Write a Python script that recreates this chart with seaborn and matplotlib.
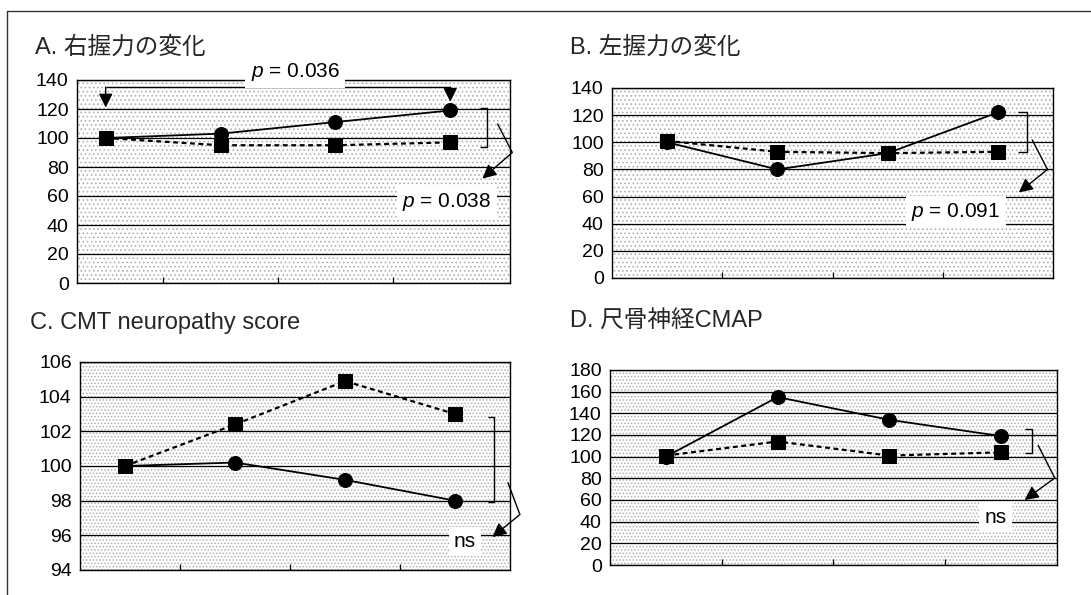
import matplotlib
matplotlib.use('Agg')
import matplotlib.pyplot as plt
import seaborn as sns
import pandas as pd
from matplotlib.patches import Rectangle
from matplotlib.lines import Line2D

sns.set_theme(style='white')
plt.rcParams['font.family'] = ['Liberation Sans', 'Noto Sans CJK JP', 'DejaVu Sans']
plt.rcParams['mathtext.fontset'] = 'custom'
plt.rcParams['mathtext.it'] = 'Liberation Sans:italic'
plt.rcParams['mathtext.rm'] = 'Liberation Sans'
plt.rcParams['hatch.linewidth'] = 0.7

# ---------------- data ----------------
time_points = [0, 1, 2, 3]
titles = ['A. 右握力の変化', 'B. 左握力の変化', 'C. CMT neuropathy score', 'D. 尺骨神経CMAP']

circle_A = [100, 103, 111, 119]
square_A = [100, 95, 95, 97]
circle_B = [100, 80, 92, 122]
square_B = [101, 93, 92, 93]
circle_C = [100, 100.2, 99.2, 98.0]
square_C = [100, 102.4, 104.9, 103.0]
circle_D = [100, 155, 134, 119]
square_D = [101, 114, 101, 104]

yticks_A = [0, 20, 40, 60, 80, 100, 120, 140]
yticks_B = [0, 20, 40, 60, 80, 100, 120, 140]
yticks_C = [94, 96, 98, 100, 102, 104, 106]
yticks_D = [0, 20, 40, 60, 80, 100, 120, 140, 160, 180]

stat_labels = [r'$p$ = 0.036', r'$p$ = 0.038', r'$p$ = 0.091', 'ns', 'ns']

# ---------------- figure ----------------
W, H = 1091, 595
fig = plt.figure(figsize=(W / 100, H / 100), dpi=100)
fig.patch.set_facecolor('white')


def px_rect(l, r, t, b):
    return [l / W, 1 - b / H, (r - l) / W, (b - t) / H]


ax_A = fig.add_axes(px_rect(77, 510, 80, 283))
ax_B = fig.add_axes(px_rect(612, 1053, 88, 278))
ax_C = fig.add_axes(px_rect(80, 510, 362, 570))
ax_D = fig.add_axes(px_rect(610, 1057, 370, 565))


def draw(ax, circ, sq, yticks, xlim, hatch):
    ax.set_xlim(*xlim)
    ax.set_ylim(yticks[0], yticks[-1])
    bg = Rectangle((0, 0), 1, 1, transform=ax.transAxes, facecolor='white',
                   edgecolor='#b0b0b0', hatch=hatch, lw=0, zorder=0.1)
    ax.add_patch(bg)
    df_c = pd.DataFrame({'time': time_points, 'value': circ})
    df_s = pd.DataFrame({'time': time_points, 'value': sq})
    sns.lineplot(data=df_c, x='time', y='value', ax=ax, color='black', lw=1.3,
                 marker='o', markersize=10, markeredgecolor='black',
                 markerfacecolor='black', zorder=3)
    sns.lineplot(data=df_s, x='time', y='value', ax=ax, color='black', lw=1.6,
                 linestyle=(0, (2.2, 1.6)), marker='s', markersize=10,
                 markeredgecolor='black', markerfacecolor='black', zorder=3.5)
    ax.set_xlabel('')
    ax.set_ylabel('')
    ax.set_yticks(yticks)
    ax.set_yticklabels([str(v) for v in yticks])
    ax.yaxis.grid(True, color='black', lw=0.9)
    ax.xaxis.grid(False)
    ax.set_axisbelow(True)
    ax.set_xticks([0.5, 1.5, 2.5])
    ax.set_xticklabels([])
    ax.tick_params(axis='x', direction='in', length=4, width=0.9, color='black', bottom=True)
    ax.tick_params(axis='y', length=0, labelsize=14, pad=6, labelcolor='black')
    for s in ax.spines.values():
        s.set_visible(True)
        s.set_color('black')
        s.set_linewidth(1.0)


draw(ax_A, circle_A, square_A, yticks_A, (-0.25, 3.52), '....')
draw(ax_B, circle_B, square_B, yticks_B, (-0.5, 3.5), '....')
draw(ax_C, circle_C, square_C, yticks_C, (-0.41, 3.5), '.....')
draw(ax_D, circle_D, square_D, yticks_D, (-0.5, 3.5), '.....')

LW = 1.0
ARROW = dict(arrowstyle='-|>,head_length=0.7,head_width=0.35', color='black',
             lw=LW, shrinkA=0, shrinkB=0)


def seg(ax, xs, ys):
    ax.plot(xs, ys, color='black', lw=LW, clip_on=False, zorder=4,
            solid_capstyle='butt')


def arrow(ax, start, tip):
    ax.annotate('', xy=tip, xytext=start, arrowprops=ARROW,
                annotation_clip=False, zorder=4)


def label(ax, x, y, s, size=15):
    ax.text(x, y, s, ha='center', va='center', fontsize=size, color='black',
            zorder=6, clip_on=False,
            bbox=dict(boxstyle='square,pad=0.25', facecolor='white', edgecolor='none'))


def bracket_arrow(ax, x0, x1, ytop, ybot, start, mid, tip):
    seg(ax, [x0, x1, x1, x0], [ytop, ytop, ybot, ybot])
    seg(ax, [start[0], mid[0]], [start[1], mid[1]])
    arrow(ax, mid, tip)


# Panel A annotations
seg(ax_A, [0, 3], [135, 135])
arrow(ax_A, (0, 135), (0, 121))
arrow(ax_A, (3, 135), (3, 125))
label(ax_A, 1.65, 145.5, stat_labels[0])
bracket_arrow(ax_A, 3.26, 3.32, 121, 94, (3.41, 110), (3.54, 90), (3.28, 72))
label(ax_A, 2.97, 56, stat_labels[1])

# Panel B annotations
bracket_arrow(ax_B, 3.18, 3.26, 122, 93, (3.31, 102), (3.45, 80), (3.19, 63))
label(ax_B, 2.62, 48.6, stat_labels[2])

# Panel C annotations
bracket_arrow(ax_C, 3.30, 3.35, 102.8, 97.9, (3.48, 99.06), (3.59, 97.2), (3.34, 95.9))
label(ax_C, 3.09, 95.66, stat_labels[3], size=15)

# Panel D annotations
bracket_arrow(ax_D, 3.21, 3.28, 125.6, 103.4, (3.33, 110.8), (3.48, 80.3), (3.21, 60))
label(ax_D, 2.95, 44.3, stat_labels[4], size=15)

# titles
fig.text(35 / W, 1 - 47 / H, titles[0], fontsize=17, va='center', ha='left')
fig.text(570 / W, 1 - 47 / H, titles[1], fontsize=17, va='center', ha='left')
fig.text(30 / W, 1 - 323 / H, titles[2], fontsize=17, va='center', ha='left')
fig.text(570 / W, 1 - 322 / H, titles[3], fontsize=17, va='center', ha='left')

# outer frame (left and top)
fig.add_artist(Line2D([7 / W, 7 / W], [0, 1 - 11 / H], transform=fig.transFigure,
                      color='#333333', lw=1.0))
fig.add_artist(Line2D([7 / W, 1], [1 - 11 / H, 1 - 11 / H], transform=fig.transFigure,
                      color='#333333', lw=1.0))

fig.savefig('out.png', dpi=100, facecolor='white')
